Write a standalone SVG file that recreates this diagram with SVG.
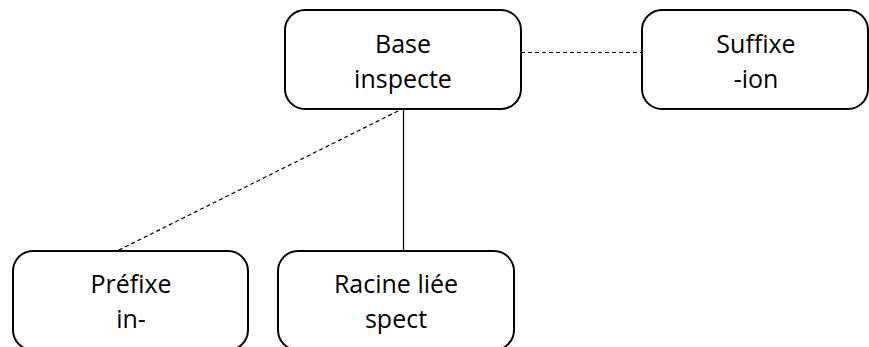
<svg xmlns="http://www.w3.org/2000/svg" width="869" height="347" viewBox="0 0 869 347">
  <style>
    .box { fill: #ffffff; stroke: #000000; stroke-width: 2; }
    .label { font-family: "Open Sans", "Liberation Sans", sans-serif; font-size: 25px; fill: #000000; text-anchor: middle; }
    .solid { stroke: #000000; stroke-width: 1.2; fill: none; }
    .dashed { stroke: #000000; stroke-width: 1.2; fill: none; stroke-dasharray: 4 3; }
  </style>
  <rect width="869" height="347" fill="#ffffff"/>

  <!-- connectors -->
  <g id="connectors">
    <line class="dashed" x1="521" y1="52.5" x2="642" y2="52.5"/>
    <line class="solid" x1="403.5" y1="109" x2="403.5" y2="251"/>
    <line class="dashed" x1="398" y1="111" x2="117" y2="251"/>
  </g>

  <!-- base -->
  <g id="node-base">
    <rect class="box" x="285" y="10" width="236" height="99" rx="20" ry="20"/>
    <text class="label" x="403" y="53">Base</text>
    <text class="label" x="403" y="88">inspecte</text>
  </g>

  <!-- suffix -->
  <g id="node-suffixe">
    <rect class="box" x="642" y="10" width="226" height="99" rx="20" ry="20"/>
    <text class="label" x="756" y="53">Suffixe</text>
    <text class="label" x="756" y="88">-ion</text>
  </g>

  <!-- prefix -->
  <g id="node-prefixe">
    <rect class="box" x="13" y="251" width="235" height="99" rx="20" ry="20"/>
    <text class="label" x="131" y="293">Préfixe</text>
    <text class="label" x="131" y="328">in-</text>
  </g>

  <!-- bound root -->
  <g id="node-racine">
    <rect class="box" x="278" y="251" width="236" height="99" rx="20" ry="20"/>
    <text class="label" x="396" y="293">Racine liée</text>
    <text class="label" x="396" y="328">spect</text>
  </g>
</svg>
